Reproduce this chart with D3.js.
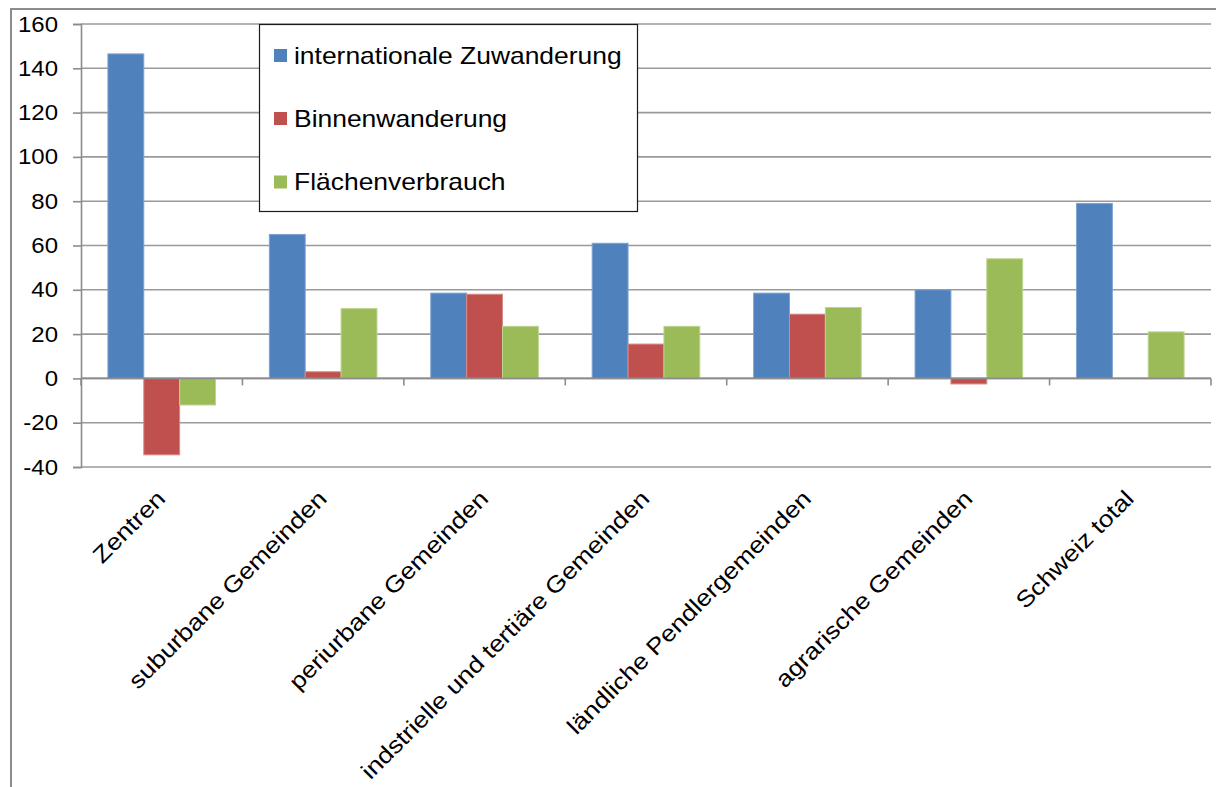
<!DOCTYPE html>
<html>
<head>
<meta charset="utf-8">
<script src="https://cdn.jsdelivr.net/npm/d3@7"></script>
<style>
  html, body { margin: 0; padding: 0; background: #fff; }
  svg { display: block; font-family: "Liberation Sans", Arial, sans-serif; }
</style>
</head>
<body>
<svg id="chart" width="1216" height="787"></svg>
<script>
const categories = ["Zentren", "suburbane Gemeinden", "periurbane Gemeinden",
  "indstrielle und tertiäre Gemeinden", "ländliche Pendlergemeinden",
  "agrarische Gemeinden", "Schweiz total"];
const seriesNames = ["internationale Zuwanderung", "Binnenwanderung", "Flächenverbrauch"];
const internationaleZuwanderung = [146.5, 65, 38.5, 61, 38.5, 40, 79];
const binnenwanderung = [-34.5, 3, 38, 15.5, 29, -2.5, 0];
const flaechenverbrauch = [-12, 31.5, 23.5, 23.5, 32, 54, 21];
const yTicks = [-40, -20, 0, 20, 40, 60, 80, 100, 120, 140, 160];
const colors = ["#4F81BD", "#C0504D", "#9BBB59"];
const strokes = ["#7fa3d2", "#d98a88", "#bcd491"];

const seriesValues = [internationaleZuwanderung, binnenwanderung, flaechenverbrauch];

const svg = d3.select("#chart");
const plot = { left: 81, right: 1211, top: 24, bottom: 467 };

// outer chart border
svg.append("path")
  .attr("d", "M11,787 L11,9 L1216,9")
  .attr("fill", "none").attr("stroke", "#8c8c8c").attr("stroke-width", 2);

const y = d3.scaleLinear().domain([-40, 160]).range([plot.bottom, plot.top]);
const x = d3.scaleBand().domain(categories).range([plot.left, plot.right]).padding(0);
const xs = d3.scaleBand().domain(seriesNames).range([0, x.bandwidth()])
  .paddingInner(0).paddingOuter(0.75);

// gridlines
svg.append("g").selectAll("line").data(yTicks).join("line")
  .attr("x1", plot.left).attr("x2", plot.right)
  .attr("y1", d => y(d)).attr("y2", d => y(d))
  .attr("stroke", "#9a9a9a").attr("stroke-width", 1.6);

// y axis
const yAxis = d3.axisLeft(y).tickValues(yTicks).tickSize(8).tickPadding(15)
  .tickFormat(d => String(d));
const gy = svg.append("g").attr("transform", `translate(${plot.left},0)`).call(yAxis);
gy.select(".domain").attr("stroke", "#8c8c8c").attr("stroke-width", 1.6);
gy.selectAll(".tick line").attr("stroke", "#8c8c8c").attr("stroke-width", 1.6);
gy.selectAll(".tick text")
  .attr("font-size", 22).attr("fill", "#000")
  .attr("font-family", "'Liberation Sans', Arial, sans-serif")
  .attr("transform", function () {
    const tx = +d3.select(this).attr("x");
    return `translate(${tx},0) scale(1.09,1)`;
  })
  .attr("x", 0);

// bars
const groups = svg.append("g").selectAll("g").data(categories).join("g")
  .attr("transform", d => `translate(${x(d)},0)`);
groups.selectAll("rect")
  .data((c, i) => seriesNames.map((s, k) => ({ s, k, v: seriesValues[k][i] })))
  .join("rect")
  .attr("x", d => xs(d.s))
  .attr("width", xs.bandwidth())
  .attr("y", d => y(Math.max(0, d.v)))
  .attr("height", d => Math.abs(y(d.v) - y(0)))
  .attr("fill", d => colors[d.k])
  .attr("stroke", d => d.v === 0 ? "none" : strokes[d.k])
  .attr("stroke-width", 1);

// x axis at zero
const xAxisG = svg.append("g").attr("transform", `translate(0,${y(0)})`);
xAxisG.append("line").attr("x1", plot.left).attr("x2", plot.right)
  .attr("stroke", "#8c8c8c").attr("stroke-width", 1.6);
const boundaries = categories.map(c => x(c)).concat([plot.right]);
xAxisG.selectAll("line.tk").data(boundaries).join("line").attr("class", "tk")
  .attr("x1", d => d).attr("x2", d => d).attr("y1", 0).attr("y2", 7)
  .attr("stroke", "#8c8c8c").attr("stroke-width", 1.6);

// category labels
svg.append("g").selectAll("text").data(categories).join("text")
  .attr("text-anchor", "end")
  .attr("font-size", 23)
  .attr("fill", "#000")
  .attr("transform", d => `translate(${x(d) + x.bandwidth() / 2 + 5},500) rotate(-45) scale(1.15,1)`)
  .text(d => d);

// legend
const lg = svg.append("g");
lg.append("rect").attr("x", 259.5).attr("y", 24.5).attr("width", 378).attr("height", 187)
  .attr("fill", "#fff").attr("stroke", "#1a1a1a").attr("stroke-width", 1.2);
const rowY = [55.5, 118.5, 182];
seriesNames.forEach((s, k) => {
  lg.append("rect").attr("x", 274).attr("y", rowY[k] - 6.5).attr("width", 13).attr("height", 13)
    .attr("fill", colors[k]);
  lg.append("text")
    .attr("transform", `translate(294,${rowY[k] + 8}) scale(1.15,1)`)
    .attr("font-size", 23).attr("fill", "#000")
    .text(s);
});
</script>
</body>
</html>
